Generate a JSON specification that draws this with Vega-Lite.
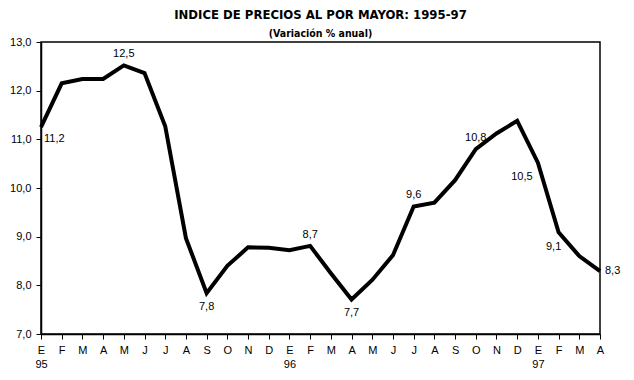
{
  "$schema": "https://vega.github.io/schema/vega-lite/v6.json",
  "width": 559,
  "height": 292,
  "autosize": {"type": "none"},
  "padding": {"left": 41, "top": 42, "right": 34, "bottom": 46},
  "background": "white",
  "config": {
    "view": {"stroke": "black", "strokeWidth": 1.5},
    "font": "Liberation Sans",
    "axis": {"grid": false, "domainColor": "black", "tickColor": "black", "labelColor": "black", "labelFont": "Liberation Sans", "labelFontSize": 11, "titleFontSize": 0, "tickSize": 5, "domainWidth": 1.5, "tickWidth": 1}
  },
  "title": {
    "text": "INDICE DE PRECIOS AL POR MAYOR: 1995-97",
    "subtitle": "(Variación % anual)",
    "font": "DejaVu Sans Condensed",
    "fontSize": 13,
    "fontWeight": "bold",
    "subtitleFont": "DejaVu Sans Condensed",
    "subtitleFontSize": 10.5,
    "subtitleFontWeight": "bold",
    "subtitleColor": "black",
    "subtitlePadding": 7,
    "color": "black",
    "anchor": "middle",
    "offset": -3
  },
  "data": {
    "values": [
      {"idx": 0, "valor": 11.25, "etiqueta": "11,2"},
      {"idx": 1, "valor": 12.15, "etiqueta": ""},
      {"idx": 2, "valor": 12.24, "etiqueta": ""},
      {"idx": 3, "valor": 12.24, "etiqueta": ""},
      {"idx": 4, "valor": 12.52, "etiqueta": "12,5"},
      {"idx": 5, "valor": 12.36, "etiqueta": ""},
      {"idx": 6, "valor": 11.27, "etiqueta": ""},
      {"idx": 7, "valor": 8.97, "etiqueta": ""},
      {"idx": 8, "valor": 7.84, "etiqueta": "7,8"},
      {"idx": 9, "valor": 8.4, "etiqueta": ""},
      {"idx": 10, "valor": 8.78, "etiqueta": ""},
      {"idx": 11, "valor": 8.77, "etiqueta": ""},
      {"idx": 12, "valor": 8.72, "etiqueta": ""},
      {"idx": 13, "valor": 8.81, "etiqueta": "8,7"},
      {"idx": 14, "valor": 8.25, "etiqueta": ""},
      {"idx": 15, "valor": 7.71, "etiqueta": "7,7"},
      {"idx": 16, "valor": 8.11, "etiqueta": ""},
      {"idx": 17, "valor": 8.62, "etiqueta": ""},
      {"idx": 18, "valor": 9.62, "etiqueta": "9,6"},
      {"idx": 19, "valor": 9.7, "etiqueta": ""},
      {"idx": 20, "valor": 10.16, "etiqueta": ""},
      {"idx": 21, "valor": 10.8, "etiqueta": "10,8"},
      {"idx": 22, "valor": 11.12, "etiqueta": ""},
      {"idx": 23, "valor": 11.38, "etiqueta": ""},
      {"idx": 24, "valor": 10.52, "etiqueta": "10,5"},
      {"idx": 25, "valor": 9.09, "etiqueta": "9,1"},
      {"idx": 26, "valor": 8.6, "etiqueta": ""},
      {"idx": 27, "valor": 8.29, "etiqueta": "8,3"}
    ]
  },
  "encoding": {
    "x": {
      "field": "idx",
      "type": "quantitative",
      "scale": {"domain": [0, 27], "nice": false, "zero": false},
      "axis": {
        "title": null,
        "values": [0,1,2,3,4,5,6,7,8,9,10,11,12,13,14,15,16,17,18,19,20,21,22,23,24,25,26,27],
        "labelPadding": 5,
        "labelLineHeight": 14,
        "labelFlush": false,
        "labelOverlap": false,
        "labelExpr": "datum.value == 0 ? ['E','95'] : datum.value == 12 ? ['E','96'] : datum.value == 24 ? ['E','97'] : ['E','F','M','A','M','J','J','A','S','O','N','D'][datum.value % 12]"
      }
    },
    "y": {
      "field": "valor",
      "type": "quantitative",
      "scale": {"domain": [7, 13], "nice": false, "zero": false},
      "axis": {
        "title": null,
        "values": [7, 8, 9, 10, 11, 12, 13],
        "labelPadding": 5,
        "labelExpr": "replace(format(datum.value, '.1f'), '.', ',')"
      }
    }
  },
  "layer": [
    {"mark": {"type": "line", "color": "black", "strokeWidth": 4, "strokeJoin": "miter", "clip": false}},
    {
      "transform": [{"filter": {"field": "idx", "oneOf": [4, 13, 18, 21]}}],
      "mark": {"type": "text", "baseline": "middle", "align": "center", "fontSize": 11, "color": "black", "dy": -11},
      "encoding": {"text": {"field": "etiqueta"}}
    },
    {
      "transform": [{"filter": {"field": "idx", "oneOf": [8, 15]}}],
      "mark": {"type": "text", "baseline": "middle", "align": "center", "fontSize": 11, "color": "black", "dy": 14},
      "encoding": {"text": {"field": "etiqueta"}}
    },
    {
      "transform": [{"filter": {"field": "idx", "oneOf": [0]}}],
      "mark": {"type": "text", "baseline": "middle", "align": "left", "fontSize": 11, "color": "black", "dx": 3, "dy": 12},
      "encoding": {"text": {"field": "etiqueta"}}
    },
    {
      "transform": [{"filter": {"field": "idx", "oneOf": [27]}}],
      "mark": {"type": "text", "baseline": "middle", "align": "left", "fontSize": 11, "color": "black", "dx": 5},
      "encoding": {"text": {"field": "etiqueta"}}
    },
    {
      "transform": [{"filter": {"field": "idx", "oneOf": [24]}}],
      "mark": {"type": "text", "baseline": "middle", "align": "center", "fontSize": 11, "color": "black", "dx": -16, "dy": 14},
      "encoding": {"text": {"field": "etiqueta"}}
    },
    {
      "transform": [{"filter": {"field": "idx", "oneOf": [25]}}],
      "mark": {"type": "text", "baseline": "middle", "align": "center", "fontSize": 11, "color": "black", "dx": -5, "dy": 15},
      "encoding": {"text": {"field": "etiqueta"}}
    }
  ]
}
